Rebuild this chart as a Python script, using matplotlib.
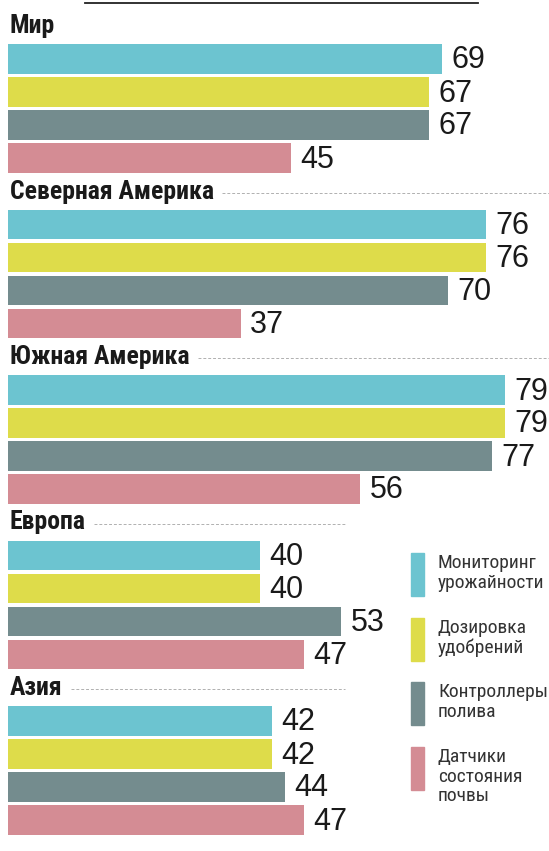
import matplotlib
matplotlib.use('Agg')
import matplotlib.pyplot as plt
from matplotlib.patches import Rectangle
from matplotlib import font_manager

regions = ['Мир', 'Северная Америка', 'Южная Америка', 'Европа', 'Азия']
series = ['Мониторинг\nурожайности', 'Дозировка\nудобрений', 'Контроллеры\nполива',
          'Датчики\nсостояния\nпочвы']
monitoring = [69, 76, 79, 40, 42]
dosing = [67, 76, 79, 40, 42]
irrigation = [67, 70, 77, 53, 44]
soil = [45, 37, 56, 47, 47]
colors = ['#6cc4d0', '#dedc4a', '#748c8e', '#d48c94']

names = {f.name for f in font_manager.fontManager.ttflist}
narrow = 'Roboto'
for cand in ['Roboto Condensed', 'Liberation Sans Narrow', 'Open Sans Condensed']:
    if cand in names:
        narrow = cand
        break
leg_size = 14 if narrow != 'Roboto' else 12

W, H = 549, 851
px = 6.29  # pixels per unit
x0 = 8
fig = plt.figure(figsize=(W / 100, H / 100), dpi=100)
ax = fig.add_axes([0, 0, 1, 1])
ax.set_xlim(-x0 / px, (W - x0) / px)
ax.set_ylim(H, 0)
ax.axis('off')

# top rule
ax.plot([(85 - x0) / px, (478 - x0) / px], [3, 3], color='#222222', lw=1.3)

data = [monitoring, dosing, irrigation, soil]
dash_end = [None, W, W, 345, 345]
for g, reg in enumerate(regions):
    ty = 24 + 165.5 * g
    t = ax.text(0.3, ty + 2, reg, fontsize=18.5, fontweight='bold', family=[narrow, 'DejaVu Sans'],
                color='#1a1a1a', va='center', ha='left')
    if dash_end[g]:
        fig.canvas.draw()
        bb = t.get_window_extent()
        xs = ax.transData.inverted().transform((bb.x1 + 8, 0))[0]
        ax.plot([xs, (dash_end[g] - x0) / px], [ty + 3, ty + 3], color='#b0b0b0',
                lw=0.7, ls=(0, (3, 2)))
    for i in range(4):
        v = data[i][g]
        cy = ty + 35 + 33 * i
        ax.barh(cy, v, height=29.5, left=0, color=colors[i])
        ax.text(v + 1.5, cy + 1.5, str(v), fontsize=22, family='Liberation Sans',
                color='#1a1a1a', va='center', ha='left')

# legend
leg_y = [553, 618, 682, 747]
for i, lab in enumerate(series):
    ax.add_patch(Rectangle(((411 - x0) / px, leg_y[i]), 13 / px, 43, color=colors[i]))
    ax.text((438 - x0) / px, leg_y[i] + 1, lab, fontsize=leg_size, family=[narrow, 'DejaVu Sans'],
            color='#333333', va='top', ha='left', linespacing=1.12)

fig.savefig('out.png', dpi=100)
